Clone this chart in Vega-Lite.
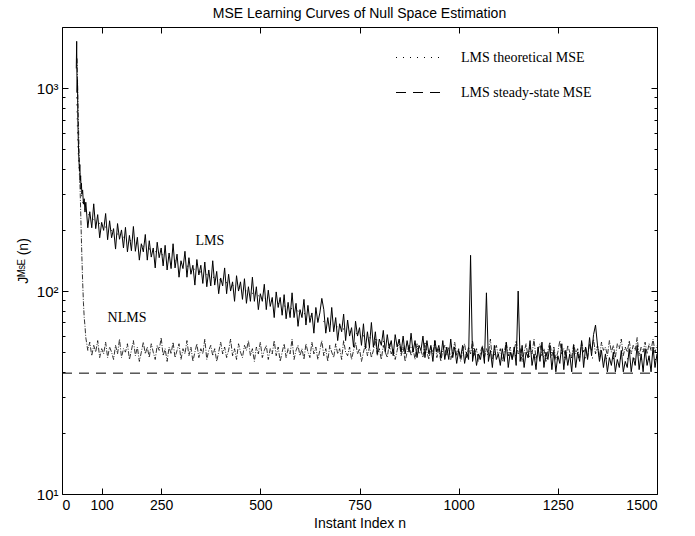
{
"$schema":"https://vega.github.io/schema/vega-lite/v6.json",
"width":595,"height":467,
"autosize":"none",
"padding":{"left":62,"top":27,"right":38,"bottom":42},
"background":"white",
"title":{"text":"MSE Learning Curves of Null Space Estimation","font":"Liberation Sans","fontSize":14,"fontWeight":"normal","color":"black","anchor":"middle","offset":6},
"config":{"view":{"stroke":null},
"axis":{"domainColor":"black","tickColor":"black","labelColor":"black","titleColor":"black","grid":false,"labelFont":"Liberation Sans","titleFont":"Liberation Sans","titleFontWeight":"normal","labelFontSize":14,"titleFontSize":14,"domainWidth":1,"tickWidth":1}},
"datasets":{
"lms":[{"n":36,"v":1250},{"n":37,"v":1700},{"n":38,"v":950},{"n":39,"v":1100},{"n":40,"v":700},{"n":41,"v":560},{"n":42,"v":480},{"n":43,"v":430},{"n":44,"v":390},{"n":45,"v":420},{"n":46,"v":350},{"n":47,"v":370},{"n":48,"v":320},{"n":49,"v":340},{"n":50,"v":300},{"n":52,"v":315},{"n":54,"v":268},{"n":56,"v":285},{"n":58,"v":245},
{"n":60,"v":274},{"n":65,"v":205},{"n":70,"v":246},{"n":75,"v":205},{"n":80,"v":269},{"n":85,"v":203},{"n":90,"v":238},{"n":95,"v":183},{"n":100,"v":218},{"n":105,"v":199},{"n":110,"v":241},{"n":115,"v":179},{"n":120,"v":222},{"n":125,"v":183},{"n":130,"v":203},{"n":135,"v":161},{"n":140,"v":215},{"n":145,"v":180},{"n":150,"v":200},{"n":155,"v":163},
{"n":160,"v":206},{"n":165,"v":156},{"n":170,"v":188},{"n":175,"v":158},{"n":180,"v":208},{"n":185,"v":157},{"n":190,"v":184},{"n":195,"v":142},{"n":200,"v":171},{"n":205,"v":156},{"n":210,"v":190},{"n":215,"v":142},{"n":220,"v":177},{"n":225,"v":147},{"n":230,"v":163},{"n":235,"v":130},{"n":240,"v":174},{"n":245,"v":146},{"n":250,"v":163},{"n":255,"v":133},
{"n":260,"v":168},{"n":265,"v":127},{"n":270,"v":154},{"n":275,"v":129},{"n":280,"v":171},{"n":285,"v":130},{"n":290,"v":152},{"n":295,"v":117},{"n":300,"v":141},{"n":305,"v":129},{"n":310,"v":157},{"n":315,"v":117},{"n":320,"v":146},{"n":325,"v":121},{"n":330,"v":134},{"n":335,"v":107},{"n":340,"v":143},{"n":345,"v":120},{"n":350,"v":134},{"n":355,"v":109},
{"n":360,"v":139},{"n":365,"v":105},{"n":370,"v":127},{"n":375,"v":106},{"n":380,"v":141},{"n":385,"v":107},{"n":390,"v":125},{"n":395,"v":97},{"n":400,"v":116},{"n":405,"v":106},{"n":410,"v":130},{"n":415,"v":97},{"n":420,"v":121},{"n":425,"v":100},{"n":430,"v":111},{"n":435,"v":89},{"n":440,"v":119},{"n":445,"v":100},{"n":450,"v":111},{"n":455,"v":91},
{"n":460,"v":115},{"n":465,"v":87},{"n":470,"v":105},{"n":475,"v":89},{"n":480,"v":117},{"n":485,"v":89},{"n":490,"v":105},{"n":495,"v":81},{"n":500,"v":97},{"n":505,"v":89},{"n":510,"v":108},{"n":515,"v":81},{"n":520,"v":101},{"n":525,"v":84},{"n":530,"v":93},{"n":535,"v":74},{"n":540,"v":99},{"n":545,"v":83},{"n":550,"v":93},{"n":555,"v":76},
{"n":560,"v":96},{"n":565,"v":73},{"n":570,"v":88},{"n":575,"v":74},{"n":580,"v":98},{"n":585,"v":74},{"n":590,"v":87},{"n":595,"v":67},{"n":600,"v":81},{"n":605,"v":74},{"n":610,"v":91},{"n":615,"v":68},{"n":620,"v":85},{"n":625,"v":70},{"n":630,"v":78},{"n":635,"v":62},{"n":640,"v":83},{"n":645,"v":70},{"n":650,"v":78},{"n":655,"v":92},
{"n":660,"v":81},{"n":665,"v":62},{"n":670,"v":74},{"n":675,"v":63},{"n":680,"v":83},{"n":685,"v":63},{"n":690,"v":74},{"n":695,"v":57},{"n":700,"v":69},{"n":705,"v":63},{"n":710,"v":77},{"n":715,"v":57},{"n":720,"v":72},{"n":725,"v":60},{"n":730,"v":66},{"n":735,"v":53},{"n":740,"v":71},{"n":745,"v":60},{"n":750,"v":66},{"n":755,"v":54},
{"n":760,"v":69},{"n":765,"v":52},{"n":770,"v":63},{"n":775,"v":53},{"n":780,"v":70},{"n":785,"v":53},{"n":790,"v":63},{"n":795,"v":49},{"n":800,"v":58},{"n":805,"v":54},{"n":810,"v":64},{"n":815,"v":50},{"n":820,"v":61},{"n":825,"v":52},{"n":830,"v":57},{"n":835,"v":48},{"n":840,"v":61},{"n":845,"v":53},{"n":850,"v":58},{"n":855,"v":50},
{"n":860,"v":60},{"n":865,"v":49},{"n":870,"v":57},{"n":875,"v":50},{"n":880,"v":62},{"n":885,"v":50},{"n":890,"v":57},{"n":895,"v":47},{"n":900,"v":54},{"n":905,"v":51},{"n":910,"v":60},{"n":915,"v":47},{"n":920,"v":57},{"n":925,"v":49},{"n":930,"v":54},{"n":935,"v":45},{"n":940,"v":57},{"n":945,"v":50},{"n":950,"v":54},{"n":955,"v":47},
{"n":960,"v":57},{"n":965,"v":46},{"n":970,"v":53},{"n":975,"v":46},{"n":980,"v":58},{"n":985,"v":47},{"n":990,"v":53},{"n":995,"v":44},{"n":1000,"v":51},
{"n":1005,"v":47},{"n":1010,"v":54},{"n":1015,"v":44},{"n":1020,"v":50},{"n":1025,"v":46},{"n":1030,"v":150},{"n":1035,"v":45},{"n":1040,"v":52},{"n":1045,"v":43},{"n":1050,"v":49},{"n":1055,"v":46},{"n":1060,"v":53},{"n":1065,"v":44},{"n":1070,"v":98},{"n":1075,"v":45},{"n":1080,"v":51},{"n":1085,"v":42},{"n":1090,"v":54},{"n":1095,"v":46},{"n":1100,"v":49},{"n":1105,"v":43},{"n":1110,"v":52},{"n":1115,"v":45},{"n":1120,"v":56},{"n":1125,"v":42},{"n":1130,"v":50},{"n":1135,"v":46},{"n":1140,"v":53},{"n":1145,"v":43},{"n":1150,"v":100},{"n":1155,"v":45},{"n":1160,"v":54},{"n":1165,"v":42},{"n":1170,"v":50},{"n":1175,"v":47},{"n":1180,"v":57},{"n":1185,"v":43},{"n":1190,"v":49},{"n":1195,"v":41},{"n":1200,"v":53},{"n":1205,"v":45},{"n":1210,"v":56},{"n":1215,"v":42},{"n":1220,"v":50},{"n":1225,"v":46},{"n":1230,"v":54},{"n":1235,"v":41},{"n":1240,"v":51},{"n":1245,"v":40},{"n":1250,"v":48},{"n":1255,"v":44},{"n":1260,"v":55},{"n":1265,"v":41},{"n":1270,"v":51},{"n":1275,"v":43},{"n":1280,"v":49},{"n":1285,"v":40},{"n":1290,"v":54},{"n":1295,"v":42},{"n":1300,"v":50},{"n":1305,"v":45},{"n":1310,"v":57},{"n":1315,"v":42},{"n":1320,"v":53},{"n":1325,"v":46},{"n":1330,"v":59},{"n":1335,"v":48},{"n":1340,"v":61},{"n":1345,"v":68},{"n":1350,"v":54},{"n":1355,"v":45},{"n":1360,"v":51},{"n":1365,"v":42},{"n":1370,"v":49},{"n":1375,"v":40},{"n":1380,"v":47},{"n":1385,"v":43},{"n":1390,"v":50},{"n":1395,"v":40},{"n":1400,"v":46},{"n":1405,"v":42},{"n":1410,"v":51},{"n":1415,"v":40},{"n":1420,"v":45},{"n":1425,"v":42},{"n":1430,"v":52},{"n":1435,"v":40},{"n":1440,"v":47},{"n":1445,"v":43},{"n":1450,"v":54},{"n":1455,"v":41},{"n":1460,"v":49},{"n":1465,"v":40},{"n":1470,"v":52},{"n":1475,"v":43},{"n":1480,"v":48},{"n":1485,"v":40},{"n":1490,"v":53},{"n":1495,"v":42},{"n":1500,"v":49}],
"nlms":[{"n":38,"v":1400},{"n":40,"v":900},{"n":42,"v":600},{"n":44,"v":420},{"n":46,"v":300},{"n":48,"v":210},{"n":50,"v":150},{"n":52,"v":112},{"n":54,"v":88},{"n":56,"v":74},{"n":58,"v":67},{"n":60,"v":59},
{"n":65,"v":51},{"n":70,"v":56},{"n":75,"v":48},{"n":80,"v":54},{"n":85,"v":50},{"n":90,"v":57},{"n":95,"v":47},{"n":100,"v":52},{"n":105,"v":49},{"n":110,"v":56},{"n":115,"v":47},{"n":120,"v":53},{"n":125,"v":50},{"n":130,"v":46},{"n":135,"v":54},{"n":140,"v":49},{"n":145,"v":58},{"n":150,"v":47},{"n":155,"v":52},{"n":160,"v":50},{"n":165,"v":55},{"n":170,"v":46},{"n":175,"v":51},{"n":180,"v":57},{"n":185,"v":48},{"n":190,"v":53},{"n":195,"v":45},{"n":200,"v":50},{"n":205,"v":56},{"n":210,"v":49},{"n":215,"v":53},{"n":220,"v":47},{"n":225,"v":55},{"n":230,"v":50},{"n":235,"v":46},{"n":240,"v":54},{"n":245,"v":51},{"n":250,"v":59},{"n":255,"v":48},{"n":260,"v":52},{"n":265,"v":45},{"n":270,"v":53},{"n":275,"v":49},{"n":280,"v":56},{"n":285,"v":47},{"n":290,"v":51},{"n":295,"v":55},{"n":300,"v":46},{"n":305,"v":52},{"n":310,"v":49},{"n":315,"v":57},{"n":320,"v":48},{"n":325,"v":53},{"n":330,"v":45},{"n":335,"v":50},{"n":340,"v":55},{"n":345,"v":47},{"n":350,"v":52},{"n":355,"v":49},{"n":360,"v":58},{"n":365,"v":46},{"n":370,"v":51},{"n":375,"v":54},{"n":380,"v":48},{"n":385,"v":52},{"n":390,"v":45},{"n":395,"v":50},{"n":400,"v":56},{"n":405,"v":49},{"n":410,"v":53},{"n":415,"v":47},{"n":420,"v":51},{"n":425,"v":58},{"n":430,"v":48},{"n":435,"v":52},{"n":440,"v":46},{"n":445,"v":55},{"n":450,"v":50},{"n":455,"v":47},{"n":460,"v":54},{"n":465,"v":51},{"n":470,"v":57},{"n":475,"v":48},{"n":480,"v":52},{"n":485,"v":45},{"n":490,"v":53},{"n":495,"v":49},{"n":500,"v":56},{"n":505,"v":47},{"n":510,"v":51},{"n":515,"v":54},{"n":520,"v":46},{"n":525,"v":52},{"n":530,"v":49},{"n":535,"v":57},{"n":540,"v":48},{"n":545,"v":53},{"n":550,"v":45},{"n":555,"v":50},{"n":560,"v":55},{"n":565,"v":47},{"n":570,"v":52},{"n":575,"v":49},{"n":580,"v":58},{"n":585,"v":46},{"n":590,"v":51},{"n":595,"v":54},{"n":600,"v":48},{"n":605,"v":52},{"n":610,"v":46},{"n":615,"v":55},{"n":620,"v":50},{"n":625,"v":47},{"n":630,"v":56},{"n":635,"v":49},{"n":640,"v":53},{"n":645,"v":46},{"n":650,"v":51},{"n":655,"v":57},{"n":660,"v":48},{"n":665,"v":52},{"n":670,"v":45},{"n":675,"v":54},{"n":680,"v":50},{"n":685,"v":47},{"n":690,"v":55},{"n":695,"v":49},{"n":700,"v":52},{"n":705,"v":46},{"n":710,"v":57},{"n":715,"v":50},{"n":720,"v":48},{"n":725,"v":53},{"n":730,"v":46},{"n":735,"v":51},{"n":740,"v":56},{"n":745,"v":49},{"n":750,"v":52},{"n":755,"v":45},{"n":760,"v":50},{"n":765,"v":55},{"n":770,"v":48},{"n":775,"v":53},{"n":780,"v":47},{"n":785,"v":51},{"n":790,"v":58},{"n":795,"v":48},{"n":800,"v":52},{"n":805,"v":46},{"n":810,"v":54},{"n":815,"v":50},{"n":820,"v":47},{"n":825,"v":55},{"n":830,"v":49},{"n":835,"v":52},{"n":840,"v":46},{"n":845,"v":51},{"n":850,"v":57},{"n":855,"v":48},{"n":860,"v":53},{"n":865,"v":45},{"n":870,"v":50},{"n":875,"v":54},{"n":880,"v":48},{"n":885,"v":52},{"n":890,"v":46},{"n":895,"v":55},{"n":900,"v":49},{"n":905,"v":51},{"n":910,"v":47},{"n":915,"v":56},{"n":920,"v":50},{"n":925,"v":46},{"n":930,"v":53},{"n":935,"v":49},{"n":940,"v":57},{"n":945,"v":47},{"n":950,"v":52},{"n":955,"v":45},{"n":960,"v":51},{"n":965,"v":54},{"n":970,"v":48},{"n":975,"v":53},{"n":980,"v":46},{"n":985,"v":50},{"n":990,"v":56},{"n":995,"v":48},{"n":1000,"v":52},{"n":1005,"v":45},{"n":1010,"v":51},{"n":1015,"v":55},{"n":1020,"v":47},{"n":1025,"v":53},{"n":1030,"v":49},{"n":1035,"v":57},{"n":1040,"v":48},{"n":1045,"v":52},{"n":1050,"v":45},{"n":1055,"v":50},{"n":1060,"v":54},{"n":1065,"v":47},{"n":1070,"v":52},{"n":1075,"v":49},{"n":1080,"v":58},{"n":1085,"v":46},{"n":1090,"v":51},{"n":1095,"v":54},{"n":1100,"v":48},{"n":1105,"v":52},{"n":1110,"v":45},{"n":1115,"v":50},{"n":1120,"v":56},{"n":1125,"v":48},{"n":1130,"v":53},{"n":1135,"v":46},{"n":1140,"v":51},{"n":1145,"v":57},{"n":1150,"v":49},{"n":1155,"v":52},{"n":1160,"v":45},{"n":1165,"v":50},{"n":1170,"v":55},{"n":1175,"v":47},{"n":1180,"v":53},{"n":1185,"v":49},{"n":1190,"v":58},{"n":1195,"v":46},{"n":1200,"v":51},{"n":1205,"v":55},{"n":1210,"v":48},{"n":1215,"v":52},{"n":1220,"v":45},{"n":1225,"v":51},{"n":1230,"v":56},{"n":1235,"v":48},{"n":1240,"v":53},{"n":1245,"v":46},{"n":1250,"v":50},{"n":1255,"v":57},{"n":1260,"v":49},{"n":1265,"v":52},{"n":1270,"v":46},{"n":1275,"v":54},{"n":1280,"v":50},{"n":1285,"v":47},{"n":1290,"v":55},{"n":1295,"v":49},{"n":1300,"v":52},{"n":1305,"v":47},{"n":1310,"v":56},{"n":1315,"v":50},{"n":1320,"v":53},{"n":1325,"v":47},{"n":1330,"v":55},{"n":1335,"v":51},{"n":1340,"v":58},{"n":1345,"v":49},{"n":1350,"v":54},{"n":1355,"v":47},{"n":1360,"v":56},{"n":1365,"v":51},{"n":1370,"v":53},{"n":1375,"v":48},{"n":1380,"v":57},{"n":1385,"v":50},{"n":1390,"v":54},{"n":1395,"v":47},{"n":1400,"v":55},{"n":1405,"v":52},{"n":1410,"v":58},{"n":1415,"v":48},{"n":1420,"v":53},{"n":1425,"v":50},{"n":1430,"v":57},{"n":1435,"v":49},{"n":1440,"v":54},{"n":1445,"v":51},{"n":1450,"v":59},{"n":1455,"v":48},{"n":1460,"v":53},{"n":1465,"v":50},{"n":1470,"v":56},{"n":1475,"v":49},{"n":1480,"v":55},{"n":1485,"v":51},{"n":1490,"v":58},{"n":1495,"v":50},{"n":1500,"v":54}],
"theo":[{"n":37,"v":900,"s":"LMS theoretical MSE"},{"n":40,"v":520,"s":"LMS theoretical MSE"},{"n":45,"v":340,"s":"LMS theoretical MSE"},{"n":50,"v":285,"s":"LMS theoretical MSE"},{"n":60,"v":245,"s":"LMS theoretical MSE"},{"n":80,"v":225,"s":"LMS theoretical MSE"},{"n":100,"v":212,"s":"LMS theoretical MSE"},{"n":150,"v":186,"s":"LMS theoretical MSE"},{"n":200,"v":168,"s":"LMS theoretical MSE"},{"n":250,"v":152,"s":"LMS theoretical MSE"},{"n":300,"v":137,"s":"LMS theoretical MSE"},{"n":350,"v":124,"s":"LMS theoretical MSE"},{"n":400,"v":113,"s":"LMS theoretical MSE"},{"n":450,"v":103,"s":"LMS theoretical MSE"},{"n":500,"v":94,"s":"LMS theoretical MSE"},{"n":550,"v":86,"s":"LMS theoretical MSE"},{"n":600,"v":79,"s":"LMS theoretical MSE"},{"n":650,"v":72,"s":"LMS theoretical MSE"},{"n":700,"v":66,"s":"LMS theoretical MSE"},{"n":750,"v":61,"s":"LMS theoretical MSE"},{"n":800,"v":57,"s":"LMS theoretical MSE"},{"n":850,"v":54,"s":"LMS theoretical MSE"},{"n":900,"v":52,"s":"LMS theoretical MSE"},{"n":950,"v":50.5,"s":"LMS theoretical MSE"},{"n":1000,"v":49.5,"s":"LMS theoretical MSE"},{"n":1100,"v":48.5,"s":"LMS theoretical MSE"},{"n":1200,"v":47.5,"s":"LMS theoretical MSE"},{"n":1300,"v":47,"s":"LMS theoretical MSE"},{"n":1400,"v":46.5,"s":"LMS theoretical MSE"},{"n":1500,"v":46,"s":"LMS theoretical MSE"}],
"ss":[{"n":0,"v":39.4,"s":"LMS steady-state MSE"},{"n":1500,"v":39.4,"s":"LMS steady-state MSE"}],
"labels":[{"n":373,"v":176,"label":"LMS"},{"n":164,"v":73.6,"label":"NLMS"}]
},
"layer":[
{"layer":[
{"data":{"name":"nlms"},"mark":{"type":"line","color":"black","strokeWidth":0.8,"strokeDash":[5,1.5,1,1.5]},
"encoding":{
"x":{"field":"n","type":"quantitative","scale":{"domain":[0,1500],"nice":false,"zero":false},
"axis":{"orient":"bottom","values":[0,100,250,500,750,1000,1250,1500],"format":"d","tickSize":-6,"labelPadding":10,"title":"Instant Index n","titlePadding":4}},
"y":{"field":"v","type":"quantitative","scale":{"type":"log","domain":[10,2000],"nice":false},
"axis":{"orient":"left","values":[10,20,30,40,50,60,70,80,90,100,200,300,400,500,600,700,800,900,1000],
"tickSize":{"condition":{"test":"datum.value==10||datum.value==100||datum.value==1000","value":-6},"value":-3},
"labelExpr":"datum.value==10?'10¹':datum.value==100?'10²':datum.value==1000?'10³':''","labelFontSize":15,"labelPadding":10,"title":"Jᴹˢᴱ (n)","titlePadding":6}}}},
{"data":{"name":"lms"},"mark":{"type":"line","color":"black","strokeWidth":1},
"encoding":{"x":{"field":"n","type":"quantitative"},"y":{"field":"v","type":"quantitative"}}},
{"data":{"name":"theo"},"mark":{"type":"line","color":"black","strokeWidth":1},
"encoding":{"x":{"field":"n","type":"quantitative"},"y":{"field":"v","type":"quantitative"},
"strokeDash":{"field":"s","type":"nominal","scale":{"domain":["LMS theoretical MSE","LMS steady-state MSE"],"range":[[1,6],[10,7]]},
"legend":{"orient":"none","legendX":348,"legendY":22,"title":null,"symbolType":"M-3,0H3","symbolSize":225,"symbolStrokeWidth":1.2,"symbolStrokeColor":"black","symbolFillColor":"transparent","labelFont":"Liberation Serif","labelFontSize":14,"labelColor":"black","labelOffset":34,"rowPadding":19,"padding":0}}}},
{"data":{"name":"ss"},"mark":{"type":"line","color":"black","strokeWidth":1},
"encoding":{"x":{"field":"n","type":"quantitative"},"y":{"field":"v","type":"quantitative"},"strokeDash":{"field":"s","type":"nominal"}}},
{"data":{"name":"labels"},"mark":{"type":"text","font":"Liberation Serif","fontSize":14,"color":"black"},
"encoding":{"x":{"field":"n","type":"quantitative"},"y":{"field":"v","type":"quantitative"},"text":{"field":"label"}}}
]},
{"data":{"name":"ss"},"mark":{"type":"point","opacity":0},
"encoding":{
"x":{"field":"n","type":"quantitative","scale":{"domain":[0,1500],"nice":false,"zero":false},
"axis":{"orient":"top","values":[0,100,250,500,750,1000,1250,1500],"tickSize":-6,"labels":false,"title":null}},
"y":{"field":"v","type":"quantitative","scale":{"type":"log","domain":[10,2000],"nice":false},
"axis":{"orient":"right","values":[10,20,30,40,50,60,70,80,90,100,200,300,400,500,600,700,800,900,1000],
"tickSize":{"condition":{"test":"datum.value==10||datum.value==100||datum.value==1000","value":-6},"value":-3},"labels":false,"title":null}}}}
],
"resolve":{"axis":{"x":"independent","y":"independent"}}
}
